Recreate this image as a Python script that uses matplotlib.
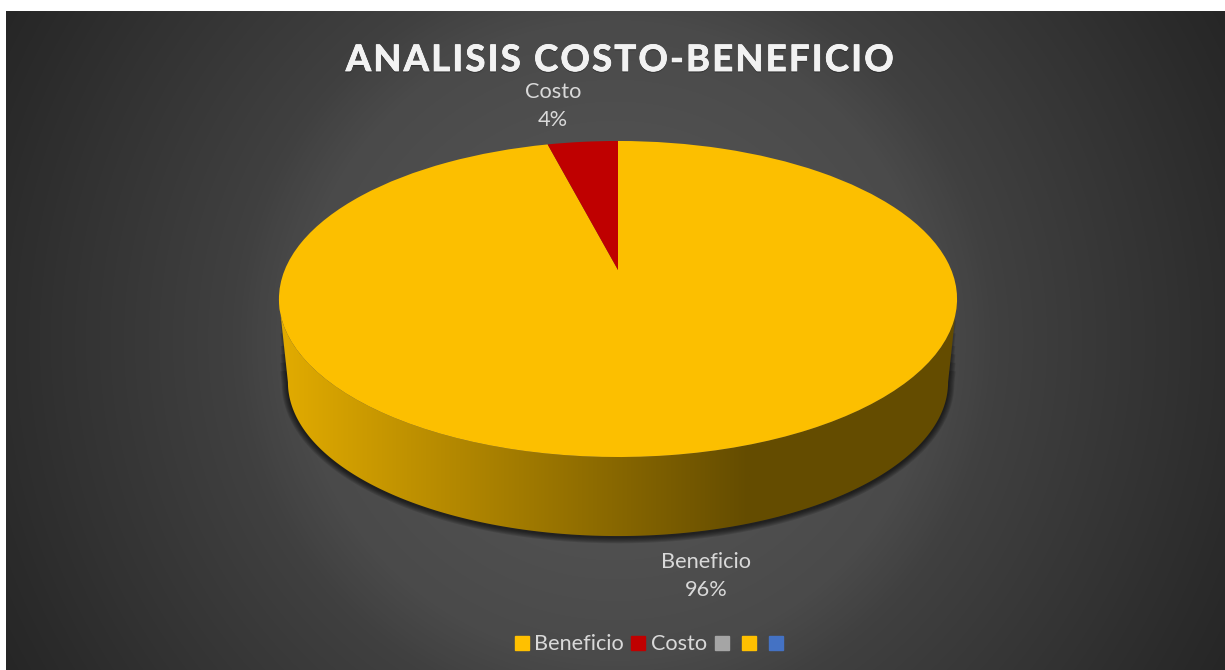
import numpy as np
import matplotlib
matplotlib.use("Agg")
import matplotlib.pyplot as plt
import matplotlib.patheffects as pe
from matplotlib.colors import LinearSegmentedColormap
from matplotlib.patches import Polygon
from matplotlib.transforms import Transform

# Chart data
categories = ["Beneficio", "Costo", "", "", ""]
values = [96, 4, 0, 0, 0]
colors = ["#FCBF00", "#BF0000", "#A5A5A5", "#FFC000", "#4472C4"]
legend_colors = ["#FFC000", "#C00000", "#A5A5A5", "#FFC000", "#4472C4"]
title = "ANALISIS COSTO-BENEFICIO"

plt.rcParams["font.family"] = ["Lato", "DejaVu Sans"]

# Perspective of the disc, in pixels
CX, CY = 618, 270
KX, KY = 333.3, 152.7
TILT = 0.1835
WALL_SCALE = 0.9735
WALL_DROP = 84


class TiltTransform(Transform):
    """Maps the unit-circle pie onto the tilted disc."""
    input_dims = 2
    output_dims = 2

    def __init__(self, scale=1.0, drop=0.0):
        super().__init__()
        self.scale = scale
        self.drop = drop

    def transform_non_affine(self, values):
        u, v = values[:, 0], values[:, 1]
        w = 1 + TILT * v
        x = CX + self.scale * KX * u / w
        y = CY - self.scale * KY * v / w + self.drop
        return np.column_stack([x, y])


top = TiltTransform()
bottom = TiltTransform(WALL_SCALE, WALL_DROP)

fig = plt.figure(figsize=(12.25, 6.7), dpi=100, facecolor="white")
ax = fig.add_axes([0, 0, 1, 1])

# Radial background
xx, yy = np.meshgrid(np.arange(6, 1225), np.arange(11, 670))
dist = np.hypot(xx - 615, yy - 340) / 695
dark_map = LinearSegmentedColormap.from_list(
    "bg", [(0, "#5A5A5A"), (0.46, "#4A4A4A"), (0.55, "#404040"),
           (0.78, "#333333"), (0.93, "#2A2A2A"), (1, "#262626")])
ax.imshow(dist, cmap=dark_map, vmin=0, vmax=1, extent=(6, 1225, 670, 11),
          aspect="auto", zorder=0)

# Outline of the rim, used for the wall and its shadow
edge = np.sqrt(1 - TILT ** 2)
start = np.arctan2(-TILT, -edge)
stop = np.arctan2(-TILT, edge)
theta = np.linspace(start, stop, 200)
unit = np.column_stack([np.cos(theta), np.sin(theta)])
top_rim = top.transform(unit)
bottom_rim = bottom.transform(unit)
rim = np.vstack([top_rim, bottom_rim[::-1]])

# Soft shadow under the wall, thinner strokes reach higher so the ends fade out
for lw, reach in zip([9, 7.5, 6, 4.5, 3, 1.5], [0.15, 0.25, 0.35, 0.45, 0.6, 0.75]):
    left_end = bottom_rim[0] + reach * (top_rim[0] - bottom_rim[0])
    right_end = bottom_rim[-1] + reach * (top_rim[-1] - bottom_rim[-1])
    shadow_pts = np.vstack([left_end, bottom_rim, right_end]) + [0, 1]
    ax.plot(shadow_pts[:, 0], shadow_pts[:, 1], color="black", linewidth=lw, alpha=0.13,
            solid_capstyle="butt", zorder=1)

# Side wall, shaded left to right
wall_map = LinearSegmentedColormap.from_list("wall", ["#E0AA00", "#644C00"])
shade = np.linspace(0, 1, 256).reshape(1, -1)
wall_img = ax.imshow(shade, cmap=wall_map, extent=(288, 750, 560, 280),
                     aspect="auto", zorder=2)
wall_dark = ax.imshow(np.ones((1, 2)), cmap=wall_map, vmin=0, vmax=1,
                      extent=(750, 960, 560, 280), aspect="auto", zorder=2)
wall_left = ax.imshow(np.zeros((1, 2)), cmap=wall_map, vmin=0, vmax=1,
                      extent=(275, 288, 560, 280), aspect="auto", zorder=2)
wall_clip = Polygon(rim, closed=True, transform=ax.transData)
for img in [wall_img, wall_dark, wall_left]:
    img.set_clip_path(wall_clip)

# Top face of the pie
wedges, _ = ax.pie(values, colors=colors, startangle=90, counterclock=False,
                   radius=1, center=(0, 0), wedgeprops={"linewidth": 0})
for wedge in wedges:
    wedge.set_transform(top + ax.transData)
    wedge.set_zorder(3)

ax.set_aspect("auto")
ax.set_xlim(0, 1225)
ax.set_ylim(670, 0)
ax.axis("off")

# Title with hair spaces for its letter spacing
spaced_title = "\u200a".join(title)
title_text = ax.text(619, 60.5, spaced_title, color="#F2F2F2", fontsize=26.2,
                     fontweight="bold", ha="center", va="center", zorder=5)
title_text.set_path_effects([pe.withSimplePatchShadow(offset=(0, -1.2), alpha=0.25, shadow_rgbFace="black"),
                             pe.withStroke(linewidth=0.6, foreground="#F2F2F2")])

# Data labels
total = sum(values)
ax.text(553, 106, f"{categories[1]}\n{values[1] * 100 / total:.0f}%", color="#D9D9D9",
        fontsize=15.7, ha="center", va="center", linespacing=1.5, zorder=5)
ax.text(706, 576.5, f"{categories[0]}\n{values[0] * 100 / total:.0f}%", color="#D9D9D9",
        fontsize=15.7, ha="center", va="center", linespacing=1.5, zorder=5)

# Legend, including the unnamed entries
handles = [plt.Rectangle((0, 0), 1, 1, color=c) for c in legend_colors]
fig.legend(handles, categories, ncols=5, loc="center", bbox_to_anchor=(651.5 / 1225, 1 - 644.5 / 670),
           frameon=False, fontsize=15.6, labelcolor="#D9D9D9", handlelength=0.65,
           handleheight=0.65, handletextpad=0.26, columnspacing=0.34, borderpad=0)

fig.savefig("out.png", dpi=100)
